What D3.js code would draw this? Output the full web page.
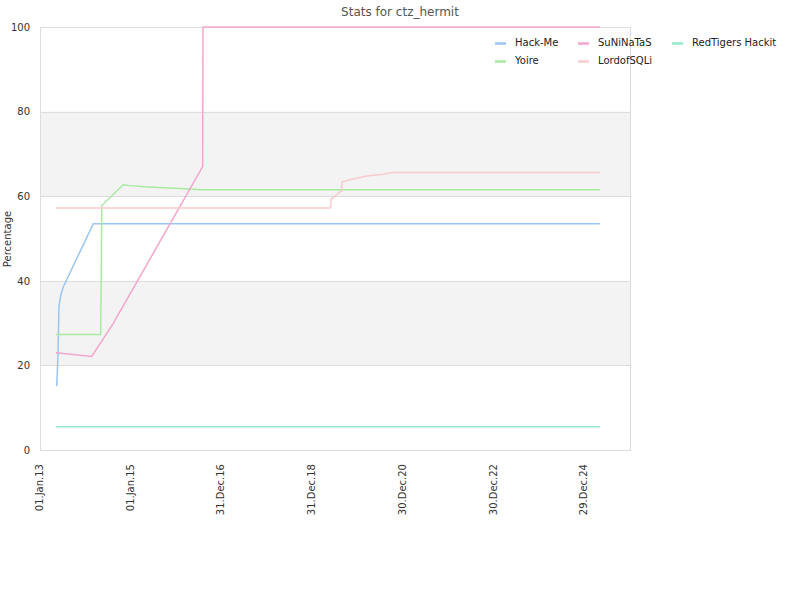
<!DOCTYPE html>
<html><head><meta charset="utf-8">
<script src="https://cdn.jsdelivr.net/npm/d3@7"></script>
<style>body{margin:0;background:#fff}text{font-family:"DejaVu Sans",sans-serif}</style>
</head><body><svg id="c" width="800" height="600"></svg>
<script>
const title = "Stats for ctz_hermit";
const yLabel = "Percentage";
const yTicks = [0, 20, 40, 60, 80, 100];
const xTickDates = ["2013-01-01","2015-01-01","2016-12-31","2018-12-31","2020-12-30","2022-12-30","2024-12-29"];
const xDomain = ["2013-01-01","2026-01-01"];
const seriesNames = ["Hack-Me","Yoire","SuNiNaTaS","LordofSQLi","RedTigers Hackit"];
const seriesColors = ["#9ac6f2","#a9eaa1","#f3a6cd","#f8cccc","#97e8c8"];

const hackMeDates = ["2013-05-15","2013-05-20","2013-05-26","2013-06-03","2013-06-17","2013-07-08","2014-03-06","2025-05-04"];
const hackMeValues = [15.1, 18.2, 22.9, 34.0, 36.6, 38.6, 53.5, 53.5];

const yoireDates = ["2013-05-10","2014-05-04","2014-05-09","2014-05-13","2014-11-02","2014-12-26","2015-05-20","2015-10-04","2016-04-22","2016-07-12","2025-05-04"];
const yoireValues = [27.3, 27.3, 42.5, 57.8, 62.7, 62.5, 62.2, 62.0, 61.7, 61.5, 61.5];

const suniDates = ["2013-05-10","2013-10-15","2014-02-21","2014-08-11","2016-08-02","2016-08-05","2025-05-04"];
const suniValues = [23.0, 22.5, 22.1, 29.8, 67.0, 100, 100];

const lordDates = ["2013-05-10","2019-05-28","2019-06-01","2019-08-26","2019-08-30","2019-10-05","2020-03-14","2020-07-23","2020-10-01","2025-05-04"];
const lordValues = [57.2, 57.2, 59.3, 61.3, 63.4, 63.7, 64.8, 65.2, 65.6, 65.6];

const redDates = ["2013-05-10","2025-05-04"];
const redValues = [5.5, 5.5];

const parse = d3.utcParse("%Y-%m-%d");
const fmt = d3.utcFormat("%d.%b.%y");
const series = [
  {name: seriesNames[0], color: seriesColors[0], dates: hackMeDates, values: hackMeValues},
  {name: seriesNames[1], color: seriesColors[1], dates: yoireDates, values: yoireValues},
  {name: seriesNames[2], color: seriesColors[2], dates: suniDates, values: suniValues},
  {name: seriesNames[3], color: seriesColors[3], dates: lordDates, values: lordValues},
  {name: seriesNames[4], color: seriesColors[4], dates: redDates, values: redValues}
];

const L = 40, R = 630, T = 27, B = 450;
const svg = d3.select("#c");
svg.append("rect").attr("width",800).attr("height",600).attr("fill","#fff");
const x = d3.scaleUtc().domain(xDomain.map(parse)).range([L, R]);
const y = d3.scaleLinear().domain([0, 100]).range([B, T]);

// bands
for (let i = 0; i < yTicks.length - 1; i++) {
  if (i % 2 === 1) {
    svg.append("rect").attr("x", L).attr("width", R - L)
      .attr("y", y(yTicks[i+1])).attr("height", y(yTicks[i]) - y(yTicks[i+1]))
      .attr("fill", "#f3f3f3");
  }
}
// grid lines
svg.append("g").selectAll("line").data(yTicks).join("line")
  .attr("x1", L).attr("x2", R).attr("y1", d => Math.round(y(d)) + 0.5).attr("y2", d => Math.round(y(d)) + 0.5)
  .attr("stroke", "#dddddd").attr("stroke-width", 1);
// frame
svg.append("rect").attr("x", L + 0.5).attr("y", T + 0.5).attr("width", R - L).attr("height", B - T)
  .attr("fill", "none").attr("stroke", "#dddddd");

// y axis
const yAxis = d3.axisLeft(y).tickValues(yTicks).tickSize(0).tickPadding(10);
const gy = svg.append("g").attr("transform", `translate(${L},0)`).call(yAxis);
gy.select(".domain").remove();
gy.selectAll("text").attr("font-size", 10).attr("fill", "#333").attr("font-family", "DejaVu Sans");

// x axis
const xAxis = d3.axisBottom(x).tickValues(xTickDates.map(parse)).tickFormat(fmt).tickSize(0).tickPadding(0);
const gx = svg.append("g").attr("transform", `translate(0,${B})`).call(xAxis);
gx.select(".domain").remove();
gx.selectAll("text").attr("font-size", 10).attr("fill", "#333").attr("font-family", "DejaVu Sans")
  .attr("text-anchor", "end").attr("dy", "0.35em").attr("dx", 0).attr("y", 0)
  .attr("transform", "translate(-1,14) rotate(-90)");

// lines
const line = d3.line().x(d => x(d[0])).y(d => y(d[1]));
svg.append("g").selectAll("path").data(series).join("path")
  .attr("d", s => line(s.dates.map((d, i) => [parse(d), s.values[i]])))
  .attr("fill", "none").attr("stroke", s => s.color).attr("stroke-width", 1.5);

// title
svg.append("text").attr("x", 400).attr("y", 16).attr("text-anchor", "middle")
  .attr("font-size", 12).attr("fill", "#555").text(title);
// y label
svg.append("text").attr("transform", "translate(11,239) rotate(-90)").attr("text-anchor", "middle")
  .attr("font-size", 10).attr("fill", "#333").text(yLabel);

// legend
const legPos = [[495,43],[495,61],[578,43],[578,61],[672,43]];
const lg = svg.append("g").selectAll("g").data(series).join("g")
  .attr("transform", (d, i) => `translate(${legPos[i][0]},${legPos[i][1]})`);
lg.append("line").attr("x1", 0).attr("x2", 11).attr("y1", 0.5).attr("y2", 0.5)
  .attr("stroke", d => d.color).attr("stroke-width", 2.5);
lg.append("text").attr("x", 20).attr("y", 0).attr("dy", "0.3em")
  .attr("font-size", 10).attr("fill", "#222").text(d => d.name);
</script></body></html>
